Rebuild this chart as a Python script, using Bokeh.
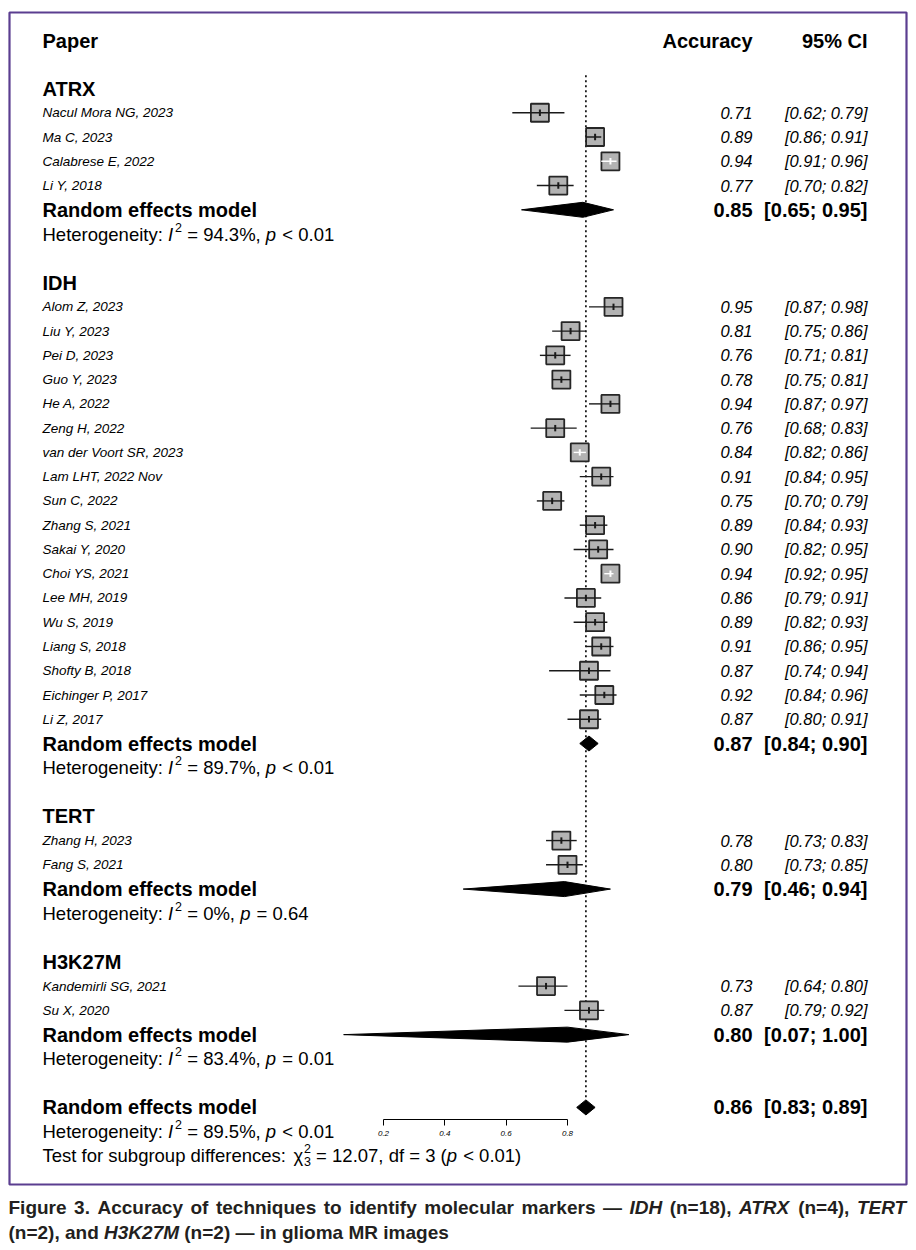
from bokeh.plotting import figure
from bokeh.models import Range1d, LinearAxis, FixedTicker
from bokeh.core.properties import value
from bokeh.embed import file_html
from bokeh.resources import INLINE

# ---------------- data ----------------
groups = ["ATRX", "IDH", "TERT", "H3K27M"]

atrx_names = ["Nacul Mora NG, 2023", "Ma C, 2023", "Calabrese E, 2022", "Li Y, 2018"]
atrx_est = [0.71, 0.89, 0.94, 0.77]
atrx_lo = [0.62, 0.86, 0.91, 0.70]
atrx_hi = [0.79, 0.91, 0.96, 0.82]

idh_names = ["Alom Z, 2023", "Liu Y, 2023", "Pei D, 2023", "Guo Y, 2023", "He A, 2022",
             "Zeng H, 2022", "van der Voort SR, 2023", "Lam LHT, 2022 Nov", "Sun C, 2022",
             "Zhang S, 2021", "Sakai Y, 2020", "Choi YS, 2021", "Lee MH, 2019", "Wu S, 2019",
             "Liang S, 2018", "Shofty B, 2018", "Eichinger P, 2017", "Li Z, 2017"]
idh_est = [0.95, 0.81, 0.76, 0.78, 0.94, 0.76, 0.84, 0.91, 0.75, 0.89, 0.90, 0.94, 0.86, 0.89, 0.91, 0.87, 0.92, 0.87]
idh_lo = [0.87, 0.75, 0.71, 0.75, 0.87, 0.68, 0.82, 0.84, 0.70, 0.84, 0.82, 0.92, 0.79, 0.82, 0.86, 0.74, 0.84, 0.80]
idh_hi = [0.98, 0.86, 0.81, 0.81, 0.97, 0.83, 0.86, 0.95, 0.79, 0.93, 0.95, 0.95, 0.91, 0.93, 0.95, 0.94, 0.96, 0.91]

tert_names = ["Zhang H, 2023", "Fang S, 2021"]
tert_est = [0.78, 0.80]
tert_lo = [0.73, 0.73]
tert_hi = [0.83, 0.85]

h3_names = ["Kandemirli SG, 2021", "Su X, 2020"]
h3_est = [0.73, 0.87]
h3_lo = [0.64, 0.79]
h3_hi = [0.80, 0.92]

re_est = [0.85, 0.87, 0.79, 0.80]
re_lo = [0.65, 0.84, 0.46, 0.07]
re_hi = [0.95, 0.90, 0.94, 1.00]
het_i2 = ["94.3%", "89.7%", "0%", "83.4%"]
het_p = ["< 0.01", "< 0.01", "= 0.64", "= 0.01"]

overall_est, overall_lo, overall_hi = 0.86, 0.83, 0.89
overall_i2, overall_p = "89.5%", "< 0.01"
test_chi2, test_df, test_p = "12.07", "3", "< 0.01"

axis_ticks = [0.2, 0.4, 0.6, 0.8]

# CI drawn in white (interval fits inside the square)
ci_inside = {"Calabrese E, 2022", "van der Voort SR, 2023", "Choi YS, 2021"}

caption_line1 = "Figure 3. Accuracy of techniques to identify molecular markers \u2014 *IDH* (n=18), *ATRX* (n=4), *TERT*"
caption_line2 = "(n=2), and *H3K27M* (n=2) \u2014 in glioma MR images"

# ---------------- text metrics (Arial / Liberation Sans) ----------------
UP = "ABCDEFGHIJKLMNOPQRSTUVWXYZ"
LO = "abcdefghijklmnopqrstuvwxyz"
REG = dict.fromkeys("0123456789", 556)
REG.update({" ": 278, "%": 889, "(": 333, ")": 333, ",": 278, ".": 278, ":": 278, ";": 278,
            "<": 584, "=": 584, "[": 278, "]": 278, "\u2014": 1000, "\u03c7": 520, "-": 333})
REG.update(dict(zip(UP, [667, 667, 722, 722, 667, 611, 778, 722, 278, 500, 667, 556, 833, 722, 778,
                         667, 778, 722, 667, 611, 722, 667, 944, 667, 667, 611])))
REG.update(dict(zip(LO, [556, 556, 500, 556, 556, 278, 556, 556, 222, 222, 500, 222, 833, 556, 556,
                         556, 556, 333, 500, 278, 556, 500, 722, 500, 500, 500])))
BOLD = dict.fromkeys("0123456789", 556)
BOLD.update({" ": 278, "%": 889, "(": 333, ")": 333, ",": 278, ".": 278, ":": 333, ";": 333,
             "<": 584, "=": 584, "[": 333, "]": 333, "\u2014": 1000, "-": 333})
BOLD.update(dict(zip(UP, [722, 722, 722, 722, 667, 611, 778, 722, 278, 556, 722, 611, 833, 722, 778,
                          667, 778, 722, 667, 611, 722, 667, 944, 667, 667, 611])))
BOLD.update(dict(zip(LO, [556, 611, 556, 611, 556, 333, 611, 611, 278, 278, 556, 278, 889, 611, 611,
                          611, 611, 389, 556, 333, 611, 556, 778, 556, 556, 500])))


def tw(s, size, bold=False):
    t = BOLD if bold else REG
    return sum(t.get(c, 556) for c in s) / 1000.0 * size


# ---------------- layout constants ----------------
W, H = 912, 1246
PX_PER_UNIT = 306.67          # px per accuracy unit
AX_LEFT_PX = 383              # picture x of 0.2
ROW_PX = 24.26                # px per row
ROW0_PX = 88                  # picture y of row 0

x0 = 0.2 - AX_LEFT_PX / PX_PER_UNIT
x1 = x0 + W / PX_PER_UNIT
y_top = -ROW0_PX / ROW_PX
y_bot = y_top + H / ROW_PX

p = figure(width=W, height=H, x_range=Range1d(x0, x1), y_range=Range1d(y_bot, y_top),
           x_axis_type=None, y_axis_type=None, output_backend="svg", toolbar_location=None,
           min_border=0, outline_line_color=None, background_fill_color="white",
           border_fill_color="white")
p.extra_x_ranges = {"px": Range1d(0, W)}
p.extra_y_ranges = {"py": Range1d(H, 0)}

FONT = "Liberation Sans"
CAPFONT = "Liberation Sans"
LEFT_X = 42
EST_X = 752
CI_X = 867

texts = []


def add_text(x, y, s, size, style="normal", align="left", yoff=0, font=FONT, color="black",
             yr="default"):
    texts.append(dict(x=x, y=y, s=s, size=size, style=style, align=align, yoff=yoff, font=font,
                      color=color, yr=yr))


# header
HDR_ROW = -1.95
add_text(LEFT_X, HDR_ROW, "Paper", 20, "bold")
add_text(EST_X, HDR_ROW, "Accuracy", 20, "bold", "right")
add_text(CI_X, HDR_ROW, "95% CI", 20, "bold", "right")

NORM = 18.5
SUP = 12.5


def put(cx, row, text, size, style="normal", yoff=0):
    lead = len(text) - len(text.lstrip(" "))
    add_text(cx + tw(" " * lead, size), row, text.strip(" "), size, style, yoff=yoff)
    return tw(text, size)


def mixed_line(row, parts, size=NORM):
    cx = LEFT_X
    for text, kind in parts:
        if kind == "n":
            cx += put(cx, row, text, size)
        elif kind == "i":
            cx += put(cx, row, text, size, "italic") + 1
        elif kind == "sup":
            put(cx + 1, row, text, SUP, yoff=-7)
        elif kind == "supadv":
            cx += put(cx + 1, row, text, SUP, yoff=-7) + 1
        elif kind == "subadv":
            cx += put(cx + 1, row, text, SUP, yoff=6) + 1


group_data = [
    (groups[0], atrx_names, atrx_est, atrx_lo, atrx_hi),
    (groups[1], idh_names, idh_est, idh_lo, idh_hi),
    (groups[2], tert_names, tert_est, tert_lo, tert_hi),
    (groups[3], h3_names, h3_est, h3_lo, h3_hi),
]

st_row, st_est, st_lo, st_hi, st_white = [], [], [], [], []
dia_xs, dia_ys = [], []
DH = 7.5 / ROW_PX

row = 0
for gi, (g, names, est, lo, hi) in enumerate(group_data):
    add_text(LEFT_X, row, g, 20, "bold")
    row += 1
    for n, e, l, h in zip(names, est, lo, hi):
        add_text(LEFT_X, row, n, 13.5, "italic")
        add_text(EST_X, row, f"{e:.2f}", 16.5, "italic", "right")
        add_text(CI_X, row, f"[{l:.2f}; {h:.2f}]", 16.5, "italic", "right")
        st_row.append(row); st_est.append(e); st_lo.append(l); st_hi.append(h)
        st_white.append(n in ci_inside)
        row += 1
    add_text(LEFT_X, row, "Random effects model", 20, "bold")
    add_text(EST_X, row, f"{re_est[gi]:.2f}", 20, "bold", "right")
    add_text(CI_X, row, f"[{re_lo[gi]:.2f}; {re_hi[gi]:.2f}]", 20, "bold", "right")
    dia_xs.append([re_lo[gi], re_est[gi], re_hi[gi], re_est[gi]])
    dia_ys.append([row, row - DH, row, row + DH])
    row += 1
    mixed_line(row, [("Heterogeneity: ", "n"), ("I", "i"), ("2", "supadv"),
                     (f" = {het_i2[gi]}, ", "n"), ("p", "i"), (f" {het_p[gi]}", "n")])
    row += 2

overall_row = row
add_text(LEFT_X, row, "Random effects model", 20, "bold")
add_text(EST_X, row, f"{overall_est:.2f}", 20, "bold", "right")
add_text(CI_X, row, f"[{overall_lo:.2f}; {overall_hi:.2f}]", 20, "bold", "right")
dia_xs.append([overall_lo, overall_est, overall_hi, overall_est])
dia_ys.append([row, row - DH, row, row + DH])
mixed_line(row + 1, [("Heterogeneity: ", "n"), ("I", "i"), ("2", "supadv"),
                     (f" = {overall_i2}, ", "n"), ("p", "i"), (f" {overall_p}", "n")])
mixed_line(row + 2, [("Test for subgroup differences: ", "n"), ("\u03c7", "n"), ("2", "sup"),
                     (test_df, "subadv"), (f" = {test_chi2}, df = {test_df} (", "n"), ("p", "i"),
                     (f" {test_p})", "n")])

# ---------------- forest marks ----------------
# reference (dotted) line at the overall estimate
p.segment(x0=[overall_est], x1=[overall_est], y0=[-0.55], y1=[overall_row - DH],
          line_color="black", line_width=1.6, line_dash="2 3")

# squares
p.rect(x=st_est, y=st_row, width=18, height=18, width_units="screen", height_units="screen",
       fill_color="#b3b3b3", line_color="#262626", line_width=1.8)

ci_col = ["white" if w else "#1a1a1a" for w in st_white]
p.segment(x0=st_lo, x1=st_hi, y0=st_row, y1=st_row, line_color=ci_col, line_width=1.4)
TK = 3.2 / ROW_PX
p.segment(x0=st_est, x1=st_est, y0=[r - TK for r in st_row], y1=[r + TK for r in st_row],
          line_color=ci_col, line_width=2)

# diamonds
p.patches(xs=dia_xs, ys=dia_ys, fill_color="black", line_color="black", line_width=1)

# axis
ax = LinearAxis(fixed_location=overall_row + 0.5, bounds=(axis_ticks[0], axis_ticks[-1]),
                ticker=FixedTicker(ticks=axis_ticks))
ax.major_tick_in = 0
ax.major_tick_out = 6
ax.minor_tick_in = 0
ax.minor_tick_out = 0
ax.axis_line_width = 1
ax.axis_line_color = "black"
ax.major_tick_line_color = "black"
ax.major_label_text_font = FONT
ax.major_label_text_font_size = "8px"
ax.major_label_text_font_style = "italic"
ax.major_label_text_color = "black"
ax.major_label_standoff = 5
p.add_layout(ax, "below")

# border
p.quad(left=[9], right=[906], top=[12], bottom=[1184], x_range_name="px", y_range_name="py",
       fill_color=None, line_color="#5b3e90", line_width=2.2)

# ---------------- caption ----------------
CAP = 19


def parse_words(line):
    out = []
    for w in line.split(" "):
        if w.startswith("*"):
            end = w.rfind("*")
            out.append((w[1:end] + w[end + 1:], "bold italic"))
        else:
            out.append((w, "bold"))
    return out


w1 = parse_words(caption_line1)
widths = [tw(w, CAP, True) for w, _ in w1]
gap = (906 - 8 - sum(widths)) / (len(w1) - 1)
cx = 8
for (w, st), ww in zip(w1, widths):
    add_text(cx, 1207, w, CAP, st, font=CAPFONT, color="#231f20", yr="py")
    cx += ww + gap
w2 = parse_words(caption_line2)
cx = 8
space = tw(" ", CAP, True)
for w, st in w2:
    add_text(cx, 1232, w, CAP, st, font=CAPFONT, color="#231f20", yr="py")
    cx += tw(w, CAP, True) + space

# ---------------- draw texts ----------------
groups_t = {}
for t in texts:
    key = (t["size"], t["style"], t["align"], t["yoff"], t["font"], t["color"], t["yr"])
    groups_t.setdefault(key, []).append(t)
for (size, style, align, yoff, font, color, yr), items in groups_t.items():
    kw = dict(x=[i["x"] for i in items], y=[i["y"] for i in items], text=[i["s"] for i in items],
              text_font=value(font), text_font_size=f"{size}px", text_font_style=style,
              text_align=align, text_baseline="middle", text_color=color, y_offset=yoff,
              x_range_name="px")
    if yr != "default":
        kw["y_range_name"] = yr
    p.text(**kw)

open("out.html", "w").write(file_html(p, INLINE, "Forest plot"))
